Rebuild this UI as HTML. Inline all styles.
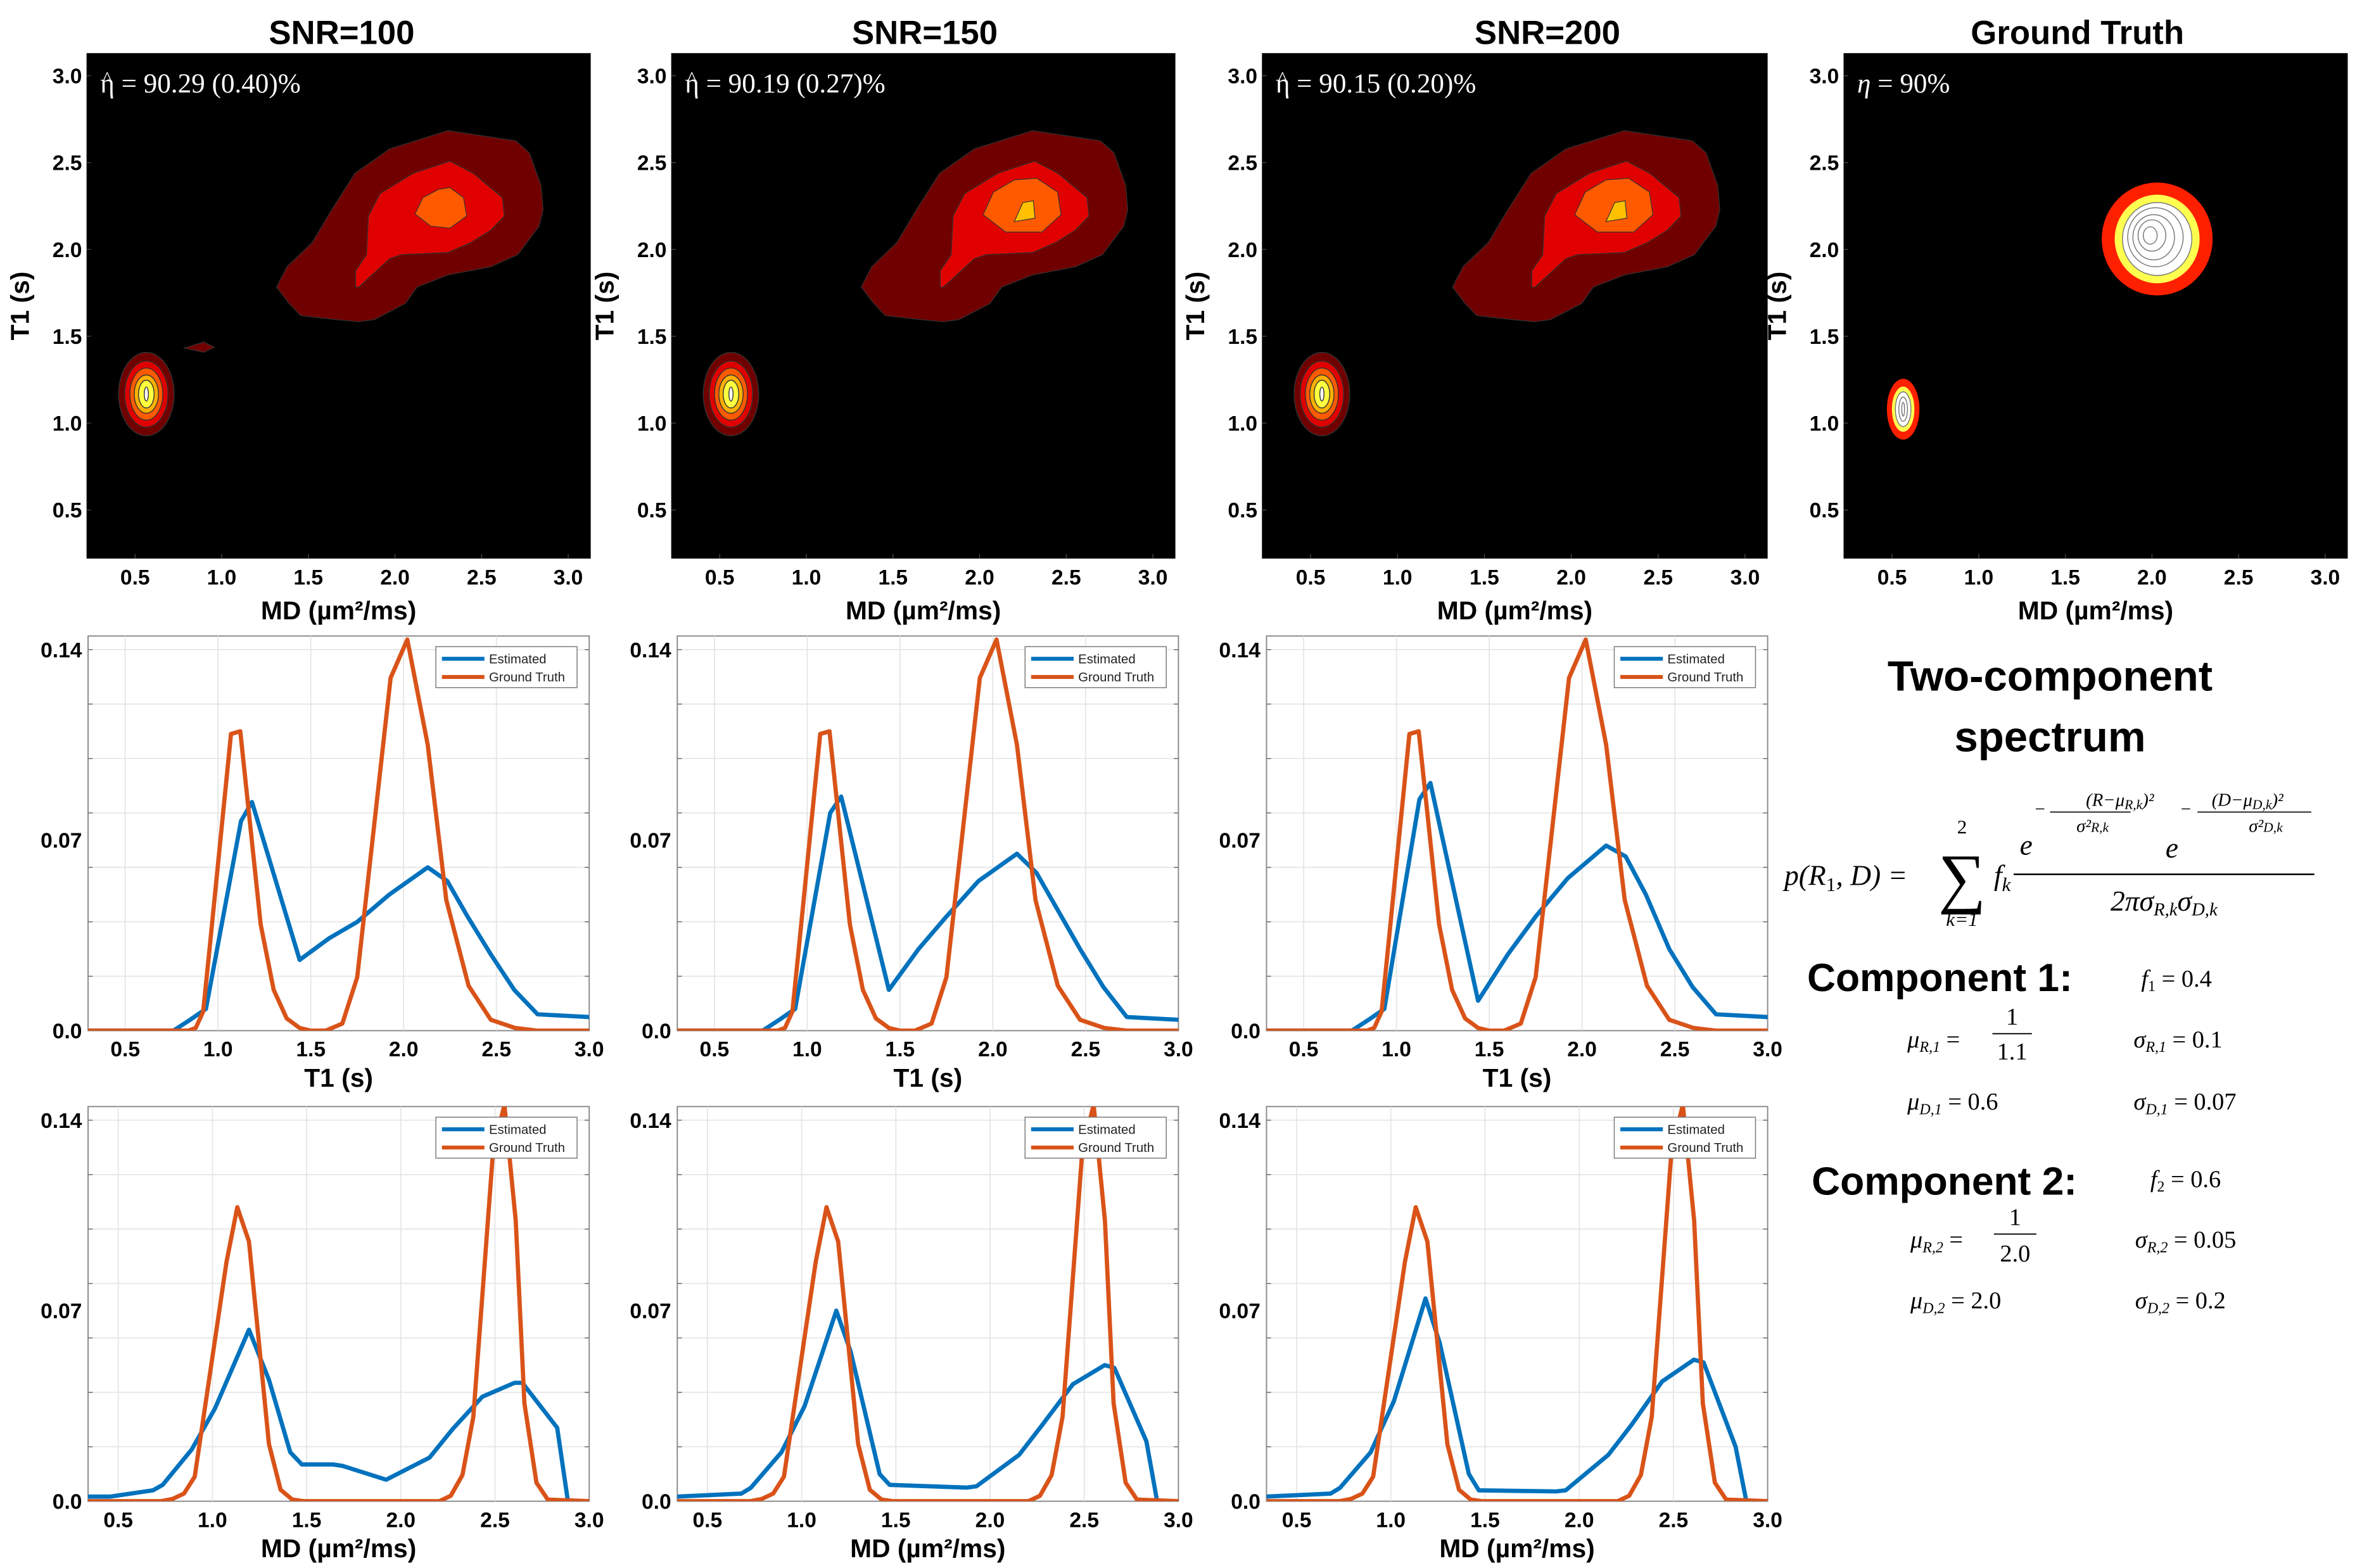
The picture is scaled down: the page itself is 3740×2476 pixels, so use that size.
<!DOCTYPE html>
<html><head><meta charset="utf-8"><style>
html,body{margin:0;padding:0;background:#fff;}
svg{display:block;}
</style></head><body>
<svg id="fig" xmlns="http://www.w3.org/2000/svg" width="3740" height="2476" viewBox="0 0 1560 1033" preserveAspectRatio="none" font-family="'Liberation Sans', sans-serif">
<rect x="0" y="0" width="1560" height="1033" fill="#fff"/>
<g id="txt" font-family="'Liberation Serif', serif">
  <text x="1350" y="455" font-family="'Liberation Sans', sans-serif" font-weight="bold" font-size="28" text-anchor="middle">Two-component</text>
  <text x="1350" y="495" font-family="'Liberation Sans', sans-serif" font-weight="bold" font-size="28" text-anchor="middle">spectrum</text>
  <g font-size="19">
    <text x="1175" y="583" font-style="italic">p(R<tspan font-size="13" dy="4" font-style="normal">1</tspan><tspan dy="-4">, D) =</tspan></text>
    <text x="1292" y="593" font-size="44" text-anchor="middle">∑</text>
    <text x="1292" y="549" font-size="13" text-anchor="middle">2</text>
    <text x="1292" y="610" font-size="13" text-anchor="middle" font-style="italic">k=1</text>
    <text x="1313" y="583" font-style="italic">f<tspan font-size="13" dy="4">k</tspan></text>
    <text x="1330" y="563" font-style="italic">e</text>
    <text x="1340" y="537" font-size="12">−</text>
    <text x="1396" y="531" font-size="12" text-anchor="middle" font-style="italic">(R−μ<tspan font-size="9" dy="2">R,k</tspan><tspan dy="-2">)²</tspan></text>
    <line x1="1350" y1="535" x2="1403" y2="535" stroke="#000" stroke-width="0.7"/>
    <text x="1378" y="548" font-size="12" text-anchor="middle" font-style="italic">σ²<tspan font-size="9">R,k</tspan></text>
    <text x="1426" y="565" font-style="italic">e</text>
    <text x="1436" y="537" font-size="12">−</text>
    <text x="1480" y="531" font-size="12" text-anchor="middle" font-style="italic">(D−μ<tspan font-size="9" dy="2">D,k</tspan><tspan dy="-2">)²</tspan></text>
    <line x1="1447" y1="535" x2="1522" y2="535" stroke="#000" stroke-width="0.7"/>
    <text x="1492" y="548" font-size="12" text-anchor="middle" font-style="italic">σ²<tspan font-size="9">D,k</tspan></text>
    <line x1="1326" y1="576" x2="1524" y2="576" stroke="#000" stroke-width="1"/>
    <text x="1425" y="600" text-anchor="middle" font-style="italic">2πσ<tspan font-size="12" dy="3">R,k</tspan><tspan dy="-3">σ</tspan><tspan font-size="12" dy="3">D,k</tspan></text>
  </g>
  <text x="1190" y="653" font-family="'Liberation Sans', sans-serif" font-weight="bold" font-size="26">Component 1:</text>
  <text x="1410" y="650" font-size="16"><tspan font-style="italic">f</tspan><tspan font-size="10" dy="3">1</tspan><tspan dy="-3"> = 0.4</tspan></text>
  <text x="1256" y="690" font-size="16"><tspan font-style="italic">μ</tspan><tspan font-size="10" dy="3" font-style="italic">R,1</tspan><tspan dy="-3"> =</tspan></text>
  <text x="1325" y="675" font-size="16" text-anchor="middle">1</text>
  <line x1="1312" y1="681" x2="1338" y2="681" stroke="#000" stroke-width="0.8"/>
  <text x="1325" y="698" font-size="16" text-anchor="middle">1.1</text>
  <text x="1405" y="690" font-size="16"><tspan font-style="italic">σ</tspan><tspan font-size="10" dy="3" font-style="italic">R,1</tspan><tspan dy="-3"> = 0.1</tspan></text>
  <text x="1256" y="731" font-size="16"><tspan font-style="italic">μ</tspan><tspan font-size="10" dy="3" font-style="italic">D,1</tspan><tspan dy="-3"> = 0.6</tspan></text>
  <text x="1405" y="731" font-size="16"><tspan font-style="italic">σ</tspan><tspan font-size="10" dy="3" font-style="italic">D,1</tspan><tspan dy="-3"> = 0.07</tspan></text>
  <text x="1193" y="787" font-family="'Liberation Sans', sans-serif" font-weight="bold" font-size="26">Component 2:</text>
  <text x="1416" y="782" font-size="16"><tspan font-style="italic">f</tspan><tspan font-size="10" dy="3">2</tspan><tspan dy="-3"> = 0.6</tspan></text>
  <text x="1258" y="822" font-size="16"><tspan font-style="italic">μ</tspan><tspan font-size="10" dy="3" font-style="italic">R,2</tspan><tspan dy="-3"> =</tspan></text>
  <text x="1327" y="807" font-size="16" text-anchor="middle">1</text>
  <line x1="1313" y1="813" x2="1341" y2="813" stroke="#000" stroke-width="0.8"/>
  <text x="1327" y="831" font-size="16" text-anchor="middle">2.0</text>
  <text x="1406" y="822" font-size="16"><tspan font-style="italic">σ</tspan><tspan font-size="10" dy="3" font-style="italic">R,2</tspan><tspan dy="-3"> = 0.05</tspan></text>
  <text x="1258" y="862" font-size="16"><tspan font-style="italic">μ</tspan><tspan font-size="10" dy="3" font-style="italic">D,2</tspan><tspan dy="-3"> = 2.0</tspan></text>
  <text x="1406" y="862" font-size="16"><tspan font-style="italic">σ</tspan><tspan font-size="10" dy="3" font-style="italic">D,2</tspan><tspan dy="-3"> = 0.2</tspan></text>
</g>
</svg>
<script>
// ===== data =====
const snrTitles = ["SNR=100","SNR=150","SNR=200","Ground Truth"];
const etaValues = [" = 90.29 (0.40)%"," = 90.19 (0.27)%"," = 90.15 (0.20)%"," = 90%"];
const etaHat = [true, true, true, false];
const mapTicks = [0.5,1.0,1.5,2.0,2.5,3.0];
const lineXTicks = [0.5,1.0,1.5,2.0,2.5,3.0];
const lineYTicks = [0.0,0.07,0.14];
const lineYGrid = [0.02,0.04,0.06,0.08,0.10,0.12,0.14];

const blobOuter = [[1.317,1.783],[1.377,1.90],[1.523,2.04],[1.635,2.228],[1.769,2.438],[1.97,2.579],[2.306,2.684],[2.698,2.625],[2.776,2.555],[2.843,2.368],[2.855,2.228],[2.832,2.134],[2.709,1.97],[2.552,1.90],[2.306,1.853],[2.127,1.783],[2.06,1.689],[1.881,1.596],[1.791,1.584],[1.657,1.596],[1.456,1.619],[1.389,1.689]];
const blobMid = [[1.847,2.192],[1.914,2.321],[2.105,2.438],[2.317,2.508],[2.452,2.438],[2.563,2.345],[2.62,2.298],[2.631,2.192],[2.552,2.11],[2.44,2.04],[2.306,1.982],[2.038,1.97],[1.97,1.947],[1.892,1.876],[1.791,1.783],[1.773,1.783],[1.773,1.876],[1.836,1.97]];
const blobInner1 = [[2.116,2.204],[2.161,2.298],[2.25,2.345],[2.317,2.356],[2.396,2.298],[2.414,2.192],[2.317,2.122],[2.206,2.134]];
const blobInner2 = [[2.02,2.2],[2.08,2.33],[2.2,2.40],[2.33,2.41],[2.45,2.33],[2.47,2.2],[2.36,2.1],[2.15,2.1]];
const speck = [[0.784,1.432],[0.896,1.467],[0.959,1.436],[0.896,1.408]];
const coreYellow = [[2.2,2.16],[2.25,2.27],[2.31,2.28],[2.32,2.18]];
const smallPeak = [[0.565,1.167,0.16,0.24],[0.565,1.167,0.125,0.19],[0.565,1.167,0.095,0.15],[0.565,1.167,0.07,0.11],[0.565,1.167,0.045,0.08],[0.565,1.167,0.012,0.04]];
const smallColors = ["#700000","#e00000","#ff5a00","#ffb000","#ffff40","#ffffff"];
const gtBig = [[2.03,2.06,0.32,0.325],[2.03,2.06,0.245,0.255],[2.03,2.06,0.2,0.21],[2.02,2.07,0.16,0.17],[2.01,2.07,0.12,0.13],[2.0,2.08,0.08,0.09],[1.99,2.08,0.04,0.05]];
const gtSmall = [[0.564,1.08,0.094,0.175],[0.564,1.08,0.065,0.13],[0.564,1.08,0.045,0.1],[0.564,1.08,0.025,0.07],[0.564,1.08,0.008,0.04]];
const gtColors = ["#ff2000","#ffff50","#ffffff","#ffffff","#ffffff","#ffffff","#ffffff"];

const gtT1x = [0.3,0.84,0.88,0.92,0.95,1.07,1.12,1.23,1.30,1.37,1.44,1.5,1.58,1.67,1.75,1.93,2.02,2.13,2.23,2.35,2.47,2.6,2.72,3.0];
const gtT1y = [0,0,0.001,0.007,0.027,0.109,0.110,0.039,0.015,0.0045,0.001,0,0,0.0026,0.0196,0.1296,0.1437,0.105,0.048,0.0165,0.004,0.001,0,0];
const estT1x = [0.3,0.76,0.85,0.935,1.124,1.183,1.44,1.6,1.751,1.923,2.13,2.235,2.344,2.47,2.596,2.722,3.0];
const estT1y100 = [0,0,0.004,0.008,0.077,0.084,0.026,0.034,0.040,0.050,0.060,0.055,0.042,0.028,0.015,0.006,0.005];
const estT1y150 = [0,0,0.004,0.008,0.080,0.086,0.015,0.030,0.042,0.055,0.065,0.058,0.045,0.030,0.016,0.005,0.004];
const estT1y200 = [0,0,0.004,0.008,0.085,0.091,0.011,0.028,0.042,0.056,0.068,0.064,0.050,0.030,0.016,0.006,0.005];

const gtMDx = [0.34,0.726,0.787,0.849,0.906,1.075,1.132,1.194,1.30,1.362,1.424,1.486,2.204,2.265,2.327,2.385,2.49,2.55,2.61,2.656,2.72,2.78,3.0];
const gtMDy = [0,0,0.0008,0.0028,0.009,0.088,0.108,0.0954,0.021,0.0042,0.0006,0,0,0.002,0.0096,0.031,0.129,0.1456,0.103,0.036,0.0068,0.0006,0];
const estMDx100 = [0.34,0.459,0.685,0.736,0.89,1.013,1.194,1.30,1.413,1.475,1.639,1.69,1.922,2.152,2.275,2.433,2.604,2.645,2.83,2.887,3.0];
const estMDy100 = [0.0017,0.0017,0.004,0.006,0.019,0.034,0.063,0.0446,0.018,0.0135,0.0135,0.013,0.0079,0.016,0.0265,0.0384,0.0435,0.0435,0.027,0,0];
const estMDx = [0.34,0.68,0.73,0.893,1.016,1.184,1.26,1.414,1.467,1.877,1.928,2.154,2.277,2.44,2.609,2.66,2.83,2.887,3.0];
const estMDy150 = [0.0017,0.0028,0.0049,0.018,0.035,0.070,0.055,0.010,0.006,0.005,0.0055,0.017,0.028,0.043,0.050,0.049,0.022,0,0];
const estMDy200 = [0.0017,0.0028,0.0049,0.018,0.0367,0.0745,0.058,0.010,0.004,0.0036,0.004,0.017,0.028,0.044,0.052,0.051,0.020,0,0];

// ===== drawing =====
const NS = "http://www.w3.org/2000/svg";
const svg = document.getElementById("fig");
function mk(tag, attrs, parent) {
  const e = document.createElementNS(NS, tag);
  for (const k in attrs) e.setAttribute(k, attrs[k]);
  (parent || svg).appendChild(e);
  return e;
}
function txt(x, y, s, size, extra, parent) {
  const t = mk("text", Object.assign({x: x, y: y, "font-size": size}, extra || {}), parent);
  t.textContent = s;
  return t;
}

const mapLefts = [57, 442, 831, 1214];
const mapRights = [389, 774, 1164, 1546];
const mapTitleX = [225, 609, 1019, 1368];
const mapTop = 35, mapBot = 368;
const mapDom = [0.22, 3.13];

mapLefts.forEach((L, i) => {
  const R = mapRights[i];
  const g = mk("g", {});
  
  
  const sx = v => L + (v - mapDom[0]) / (mapDom[1] - mapDom[0]) * (R - L);
  const sy = v => mapBot - (v - mapDom[0]) / (mapDom[1] - mapDom[0]) * (mapBot - mapTop);
  const cx0 = (L + R) / 2;
  const title = txt(mapTitleX[i], 29, snrTitles[i], 22, {"font-weight": "bold", "text-anchor": "middle"}, g);
  
  
  const bg = mk("rect", {x: L, y: mapTop, width: R - L, height: mapBot - mapTop, fill: "#000"}, g);
  
  
  const poly = (pts, fill) => {
    const p = mk("polygon", {points: pts.map(q => sx(q[0]) + "," + sy(q[1])).join(" "), fill: fill, stroke: "#333", "stroke-width": 0.5}, g);
    
    
  };
  const ell = (e, fill, stroke) => {
    const p = mk("ellipse", {cx: sx(e[0]), cy: sy(e[1]), rx: e[2] / (mapDom[1] - mapDom[0]) * (R - L), ry: e[3] / (mapDom[1] - mapDom[0]) * (mapBot - mapTop), fill: fill, stroke: stroke, "stroke-width": 0.6}, g);
    
    
  };
  if (i < 3) {
    poly(blobOuter, "#700000");
    poly(blobMid, "#e00000");
    poly(i === 0 ? blobInner1 : blobInner2, "#ff5a00");
    if (i > 0) poly(coreYellow, "#ffc000");
    if (i === 0) poly(speck, "#700000");
    smallPeak.forEach((e, k) => ell(e, smallColors[k], "#333"));
  } else {
    gtBig.forEach((e, k) => ell(e, gtColors[k], k > 1 ? "#777" : "none"));
    gtSmall.forEach((e, k) => ell(e, gtColors[k], k > 1 ? "#777" : "none"));
  }
  mapTicks.forEach(t => {
    mk("line", {x1: sx(t), y1: mapBot, x2: sx(t), y2: mapBot - 3, stroke: "#444", "stroke-width": 0.6}, g);
    mk("line", {x1: L, y1: sy(t), x2: L + 3, y2: sy(t), stroke: "#444", "stroke-width": 0.6}, g);
    const xl = txt(sx(t), 385, t.toFixed(1), 14, {"font-weight": "bold", "text-anchor": "middle"}, g);
    
    
    const yl = txt(L - 3, sy(t) + 5, t.toFixed(1), 14, {"font-weight": "bold", "text-anchor": "end"}, g);
    
    
  });
  const eta = txt(L + 9, 61, "", 18, {fill: "#fff", "font-family": "'Liberation Serif', serif"}, g);
  
  
  const ts1 = mk("tspan", {"font-style": etaHat[i] ? "normal" : "italic"}, eta);
  ts1.textContent = "η";
  const ts2 = mk("tspan", {}, eta);
  ts2.textContent = etaValues[i];
  if (etaHat[i]) {
    const hat = txt(L + 10.5, 56, "^", 13, {fill: "#fff", "font-family": "'Liberation Serif', serif"}, g);
    
    
  }
  const xt = txt(cx0, 408, "MD (µm²/ms)", 17, {"font-weight": "bold", "text-anchor": "middle"}, g);
  
  
  const yt = txt(0, 0, "T1 (s)", 17, {"font-weight": "bold", "text-anchor": "middle", transform: "translate(" + (L - 38) + "," + ((mapTop + mapBot) / 2) + ") rotate(-90)"}, g);
  
  
});

const colLefts = [58, 446, 834];
const plotW = 330;
const rows = [
  {top: 419, bot: 679, dom: [0.3, 3.0], label: "T1 (s)", gx: [gtT1x, gtT1x, gtT1x], gy: [gtT1y, gtT1y, gtT1y], ex: [estT1x, estT1x, estT1x], ey: [estT1y100, estT1y150, estT1y200], name: "t1-marginal"},
  {top: 729, bot: 989, dom: [0.34, 3.0], label: "MD (µm²/ms)", gx: [gtMDx, gtMDx, gtMDx], gy: [gtMDy, gtMDy, gtMDy], ex: [estMDx100, estMDx, estMDx], ey: [estMDy100, estMDy150, estMDy200], name: "md-marginal"}
];
const yMax = 0.145;
rows.forEach((r, ri) => {
  colLefts.forEach((L, ci) => {
    const R = L + plotW;
    const g = mk("g", {});
    
    
    const sx = v => L + (v - r.dom[0]) / (r.dom[1] - r.dom[0]) * plotW;
    const sy = v => r.bot - v / yMax * (r.bot - r.top);
    mk("rect", {x: L, y: r.top, width: plotW, height: r.bot - r.top, fill: "#fff", stroke: "#888", "stroke-width": 0.8}, g);
    lineXTicks.forEach(t => {
      if (t < 3.0) mk("line", {x1: sx(t), y1: r.top, x2: sx(t), y2: r.bot, stroke: "#e4e4e4", "stroke-width": 0.7}, g);
      const xl = txt(sx(t), r.bot + 17, t.toFixed(1), 14, {"font-weight": "bold", "text-anchor": "middle"}, g);
      
      
    });
    lineYGrid.forEach(t => {
      mk("line", {x1: L, y1: sy(t), x2: R, y2: sy(t), stroke: "#e4e4e4", "stroke-width": 0.7}, g);
      mk("line", {x1: L, y1: sy(t), x2: L + 3, y2: sy(t), stroke: "#666", "stroke-width": 0.6}, g);
      mk("line", {x1: R, y1: sy(t), x2: R - 3, y2: sy(t), stroke: "#666", "stroke-width": 0.6}, g);
    });
    lineYTicks.forEach(t => {
      const yl = txt(L - 4, sy(t) + 5, t === 0 ? "0.0" : String(t), 14, {"font-weight": "bold", "text-anchor": "end"}, g);
      
      
    });
    const cid = "clip" + ri + ci;
    const cp = mk("clipPath", {id: cid}, g);
    mk("rect", {x: L, y: r.top, width: plotW, height: r.bot - r.top}, cp);
    const path = (xs, ys, color, nm) => {
      const d = xs.map((x, k) => (k ? "L" : "M") + sx(x).toFixed(2) + "," + sy(ys[k]).toFixed(2)).join(" ");
      const p = mk("path", {d: d, fill: "none", stroke: color, "stroke-width": 2.8, "stroke-linejoin": "round", "clip-path": "url(#" + cid + ")"}, g);
      
      
    };
    path(r.ex[ci], r.ey[ci], "#0072bd", "estimated-line");
    path(r.gx[ci], r.gy[ci], "#d95319", "ground-truth-line");
    const lg = mk("g", {}, g);
    
    
    const lx = R - 101, ly = r.top + 7;
    mk("rect", {x: lx, y: ly, width: 93, height: 27, fill: "#fff", stroke: "#777", "stroke-width": 0.6}, lg);
    mk("line", {x1: lx + 4, y1: ly + 8, x2: lx + 32, y2: ly + 8, stroke: "#0072bd", "stroke-width": 2.6}, lg);
    mk("line", {x1: lx + 4, y1: ly + 20, x2: lx + 32, y2: ly + 20, stroke: "#d95319", "stroke-width": 2.6}, lg);
    const le1 = txt(lx + 35, ly + 11, "Estimated", 8.5, {fill: "#222"}, lg);
    
    
    const le2 = txt(lx + 35, ly + 23, "Ground Truth", 8.5, {fill: "#222"}, lg);
    
    
    const xt = txt(L + plotW / 2, r.bot + 37, r.label, 17, {"font-weight": "bold", "text-anchor": "middle"}, g);
    
    
  });
});
</script>
</body></html>
